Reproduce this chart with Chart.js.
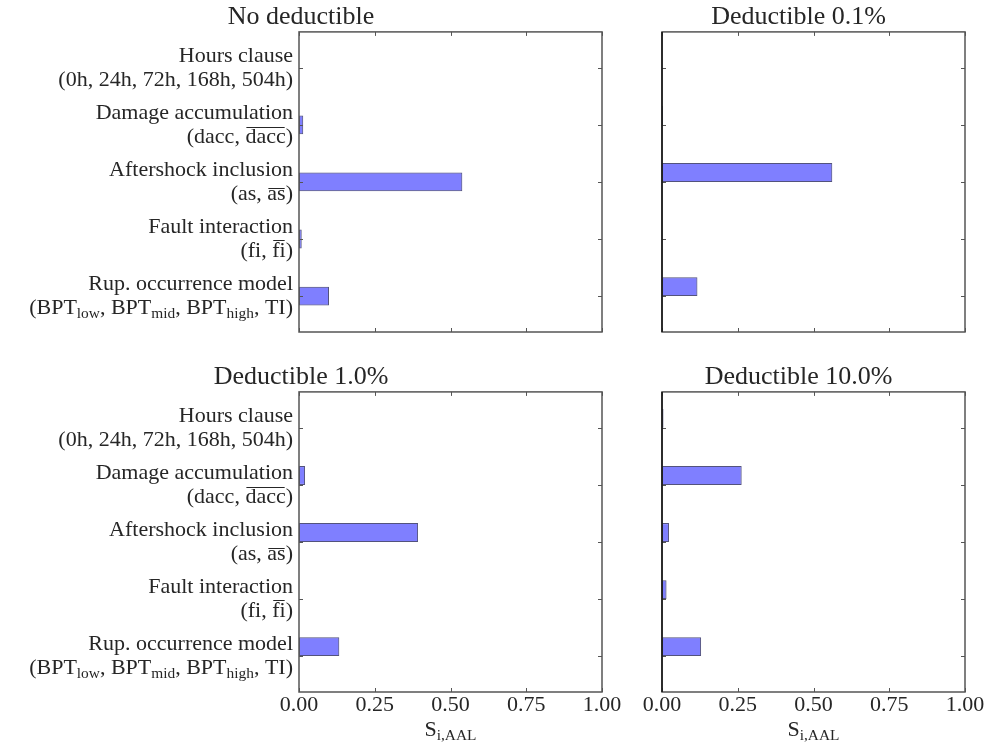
<!DOCTYPE html>
<html>
<head>
<meta charset="utf-8">
<script src="https://cdn.jsdelivr.net/npm/chart.js@4.4.1/dist/chart.umd.min.js"></script>
<style>
    html, body { margin: 0; padding: 0; background: #ffffff; width: 984px; height: 749px; overflow: hidden; }
    .panel { position: absolute; }
    #p0 { left: 0; top: 0; width: 627px; height: 336px; }
    #p1 { left: 632px; top: 0; width: 360px; height: 336px; }
    #p2 { left: 0; top: 360px; width: 627px; height: 389px; }
    #p3 { left: 632px; top: 360px; width: 360px; height: 389px; }
</style>
</head>
<body>
<div class="panel" id="p0"><canvas id="chart0"></canvas></div>
<div class="panel" id="p1"><canvas id="chart1"></canvas></div>
<div class="panel" id="p2"><canvas id="chart2"></canvas></div>
<div class="panel" id="p3"><canvas id="chart3"></canvas></div>
<script>
// Factors, listed top to bottom as they appear on the chart
const factorNames = ["Hours clause", "Damage accumulation", "Aftershock inclusion", "Fault interaction", "Rup. occurrence model"];

// Second label line of each factor (sub = subscript, over = overline)
const factorLevels = [
    [{ t: "(0h, 24h, 72h, 168h, 504h)" }],
    [{ t: "(dacc, " }, { t: "dacc", over: true }, { t: ")" }],
    [{ t: "(as, " }, { t: "as", over: true }, { t: ")" }],
    [{ t: "(fi, " }, { t: "fi", over: true }, { t: ")" }],
    [{ t: "(BPT" }, { t: "low", sub: true }, { t: ", BPT" }, { t: "mid", sub: true }, { t: ", BPT" }, { t: "high", sub: true }, { t: ", TI)" }]
];

const panelTitles = ["No deductible", "Deductible 0.1%", "Deductible 1.0%", "Deductible 10.0%"];

// Sensitivity index S_i,AAL per factor
const sNoDeductible = [0.0, 0.014, 0.539, 0.009, 0.099];
const sDeductible01 = [0.0, 0.003, 0.562, 0.001, 0.117];
const sDeductible1 = [0.0, 0.020, 0.393, 0.0, 0.133];
const sDeductible10 = [0.005, 0.263, 0.023, 0.015, 0.129];

const xTickValues = [0, 0.25, 0.5, 0.75, 1.0];
const xAxisLabel = [{ t: "S" }, { t: "i,AAL", sub: true }];

const SERIF = '"Liberation Serif", "DejaVu Serif", serif';
const TEXT_COLOR = "#262626";
const FRAME_COLOR = "#555555";
const BAR_HEIGHT = 0.33;
const Y_MIN = -0.63;
const Y_MAX = 4.63;

/**
 * Measures a label made of plain / subscript parts
 */
function richWidth(ctx, parts, size) {
    let w = 0;
    parts.forEach(p => {
        ctx.font = (p.sub ? size * 0.7 : size) + "px " + SERIF;
        w += ctx.measureText(p.t).width;
    });
    return w;
}

/**
 * Draws a label made of plain / subscript / overlined parts starting at x
 */
function drawRich(ctx, parts, x, baseline, size) {
    parts.forEach(p => {
        let s = p.sub ? size * 0.7 : size;
        let y = p.sub ? baseline + size * 0.2 : baseline;
        ctx.font = s + "px " + SERIF;
        let m = ctx.measureText(p.t);
        ctx.fillText(p.t, x, y);
        if (p.over) {
            let oy = Math.round(y - m.actualBoundingBoxAscent - 2) + 0.5;
            ctx.beginPath();
            ctx.lineWidth = 1;
            ctx.moveTo(x + 1, oy);
            ctx.lineTo(x + m.width - 1, oy);
            ctx.stroke();
        }
        x += m.width;
    });
}

// Frame, inward ticks, factor labels and x axis title
const framePlugin = {
    id: "frame",
    afterDatasetsDraw(chart, args, opts) {
        const ctx = chart.ctx;
        const a = chart.chartArea;
        const xs = chart.scales.x;
        const ys = chart.scales.y;
        const n = factorNames.length;
        ctx.save();

        ctx.strokeStyle = FRAME_COLOR;
        ctx.lineWidth = 1;
        ctx.beginPath();
        xTickValues.forEach(v => {
            let px = Math.round(xs.getPixelForValue(v)) + 0.5;
            ctx.moveTo(px, a.top); ctx.lineTo(px, a.top + 4);
            ctx.moveTo(px, a.bottom); ctx.lineTo(px, a.bottom - 4);
        });
        for (let i = 0; i < n; i++) {
            let py = Math.round(ys.getPixelForValue(i)) + 0.5;
            ctx.moveTo(a.left, py); ctx.lineTo(a.left + 4, py);
            ctx.moveTo(a.right, py); ctx.lineTo(a.right - 4, py);
        }
        ctx.stroke();

        ctx.lineWidth = 1.5;
        ctx.strokeRect(a.left, a.top, a.right - a.left, a.bottom - a.top);
        if (opts.darkLeft) {
            ctx.strokeStyle = "#111111";
            ctx.beginPath();
            ctx.moveTo(a.left, a.top); ctx.lineTo(a.left, a.bottom);
            ctx.stroke();
        }

        ctx.fillStyle = TEXT_COLOR;
        ctx.strokeStyle = TEXT_COLOR;
        ctx.textBaseline = "alphabetic";
        ctx.textAlign = "left";
        if (opts.labels) {
            for (let i = 0; i < n; i++) {
                let py = ys.getPixelForValue(n - 1 - i);
                let right = a.left - 6;
                let first = [{ t: factorNames[i] }];
                drawRich(ctx, first, right - richWidth(ctx, first, 22), py - 6, 22);
                drawRich(ctx, factorLevels[i], right - richWidth(ctx, factorLevels[i], 22), py + 18, 22);
            }
        }
        if (opts.xTitle) {
            let cx = (a.left + a.right) / 2;
            drawRich(ctx, xAxisLabel, cx - richWidth(ctx, xAxisLabel, 22) / 2, a.bottom + 44, 22);
        }
        ctx.restore();
    }
};

/**
 * Builds one panel of the figure
 * @param {string} canvasId Canvas to draw into
 * @param {number} idx Panel index (title)
 * @param {number[]} values S_i,AAL per factor
 * @param {*} opts Layout of the panel
 */
function buildPanel(canvasId, idx, values, opts) {
    const n = factorNames.length;
    const shift = opts.edge ? BAR_HEIGHT / 2 : 0;
    const points = values.map((v, i) => ({ x: v, y: (n - 1 - i) + shift }));

    return new Chart(document.getElementById(canvasId), {
        type: "bar",
        data: {
            datasets: [{
                data: points,
                backgroundColor: "rgba(0, 0, 255, 0.5)",
                borderColor: "rgba(25, 25, 80, 0.75)",
                borderWidth: 1,
                borderSkipped: false,
                categoryPercentage: 1,
                barPercentage: BAR_HEIGHT
            }]
        },
        options: {
            indexAxis: "y",
            responsive: true,
            maintainAspectRatio: false,
            animation: false,
            events: [],
            layout: { padding: { top: 2, bottom: opts.showX ? 0 : 4, left: 0, right: opts.padRight } },
            plugins: {
                legend: { display: false },
                tooltip: { enabled: false },
                title: {
                    display: true,
                    text: panelTitles[idx],
                    color: TEXT_COLOR,
                    font: { family: SERIF, size: 26, weight: "normal", lineHeight: 1.15 },
                    padding: 0
                },
                frame: { labels: opts.labels, xTitle: opts.showX, darkLeft: !opts.labels }
            },
            scales: {
                x: {
                    type: "linear",
                    min: 0,
                    max: 1,
                    grid: { display: false, drawTicks: false },
                    border: { display: false },
                    ticks: {
                        display: opts.showX,
                        stepSize: 0.25,
                        padding: 0,
                        color: TEXT_COLOR,
                        font: { family: SERIF, size: 22 },
                        callback: function (value) {
                            return value.toFixed(2);
                        }
                    },
                    afterFit: function (scale) {
                        scale.height = opts.showX ? 57 : 0;
                    }
                },
                y: {
                    type: "linear",
                    min: Y_MIN,
                    max: Y_MAX,
                    offset: false,
                    grid: { display: false, drawTicks: false },
                    border: { display: false },
                    ticks: { display: false },
                    afterBuildTicks: function (scale) {
                        scale.ticks = [0, 1, 2, 3, 4].map(v => ({ value: v }));
                    },
                    afterFit: function (scale) {
                        scale.width = opts.yWidth;
                    }
                }
            }
        },
        plugins: [framePlugin]
    });
}

buildPanel("chart0", 0, sNoDeductible, { edge: false, labels: true, showX: false, yWidth: 299, padRight: 25 });
buildPanel("chart1", 1, sDeductible01, { edge: true, labels: false, showX: false, yWidth: 30, padRight: 27 });
buildPanel("chart2", 2, sDeductible1, { edge: true, labels: true, showX: true, yWidth: 299, padRight: 25 });
buildPanel("chart3", 3, sDeductible10, { edge: true, labels: false, showX: true, yWidth: 30, padRight: 27 });
</script>
</body>
</html>
